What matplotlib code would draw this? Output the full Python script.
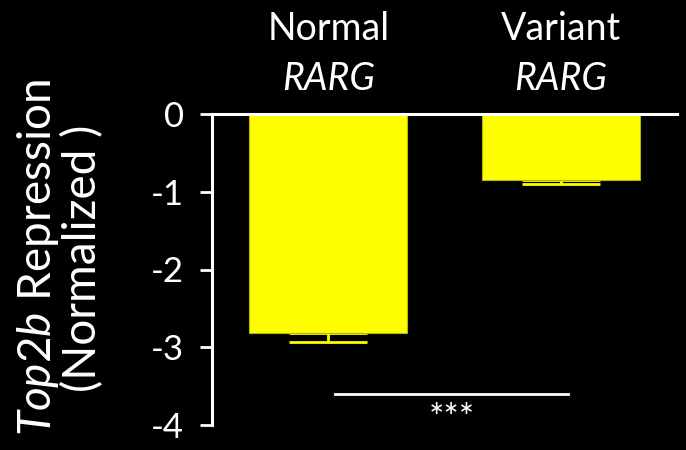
import matplotlib
matplotlib.use("Agg")
import matplotlib.pyplot as plt
from matplotlib.transforms import blended_transform_factory

plt.rcParams['font.family'] = ['Lato', 'DejaVu Sans']
plt.rcParams['mathtext.fontset'] = 'custom'
plt.rcParams['mathtext.rm'] = 'Lato'
plt.rcParams['mathtext.it'] = 'Lato:italic'

# data
groups = ["Normal", "Variant"]
gene = ["RARG", "RARG"]
values = [-2.82, -0.85]
errors = [0.11, 0.05]
yticks = [0, -1, -2, -3, -4]
sig_text = "***"
sig_y = -3.60

yellow = "#FFFF00"
white = "white"

fig = plt.figure(figsize=(6.86, 4.5), dpi=100, facecolor="black")
ax = fig.add_axes([212/686, 25/450, 465/686, 311/450])
ax.set_facecolor("black")

x = list(range(len(groups)))
ax.bar(x, values, width=0.68, color=yellow, edgecolor="#b8b800", linewidth=0.8, zorder=2)
ax.errorbar(x, values, yerr=[errors, [0]*len(errors)], fmt="none", ecolor=yellow,
            elinewidth=2, capsize=28, capthick=2, zorder=1)

ax.set_xlim(-0.5, 1.5)
ax.set_ylim(-4, 0)
ax.set_yticks(yticks)
ax.set_yticklabels([str(t) for t in yticks])
ax.set_xticks([])

for s in ["right", "bottom"]:
    ax.spines[s].set_visible(False)
ax.spines["left"].set_color(white)
ax.spines["left"].set_linewidth(2.2)
ax.spines["top"].set_color(white)
ax.spines["top"].set_linewidth(2.2)
ax.tick_params(axis="y", colors=white, length=9, width=2, labelsize=25, pad=11)
ax.spines["left"].set_zorder(3)

# y label placed in figure pixels
fig.text(60/686, 1 - 258/450, r"$\it{Top2b}$ Repression" + "\n(Normalized )",
         rotation=90, ha="center", va="center", multialignment="center",
         color=white, fontsize=33, linespacing=1.0)

# group labels above the plot
trans = blended_transform_factory(ax.transData, fig.transFigure)
for xi, g, gn in zip(x, groups, gene):
    ax.text(xi, 1 - 40/450, g, transform=trans, ha="center", va="baseline",
            color=white, fontsize=27)
    ax.text(xi, 1 - 90/450, gn, transform=trans, ha="center", va="baseline",
            color=white, fontsize=27, style="italic")

# significance bar
ax.plot([0.03, 1.03], [sig_y, sig_y], color=white, linewidth=2, clip_on=False)
ax.text(0.53, -3.93, sig_text, ha="center", va="center", color=white, fontsize=26)

fig.savefig("out.png", dpi=100, facecolor="black")
